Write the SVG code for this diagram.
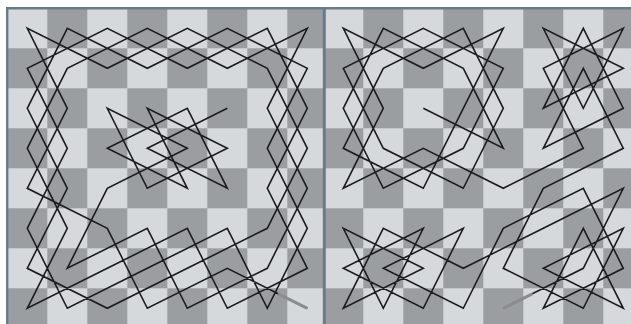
<svg xmlns="http://www.w3.org/2000/svg" width="631" height="324" viewBox="0 0 631 324">
  <defs>
    <pattern id="chkL" width="80" height="80" patternUnits="userSpaceOnUse" x="7.3" y="8.3">
      <rect width="80" height="80" fill="#d5d9dc"/>
      <rect x="40" y="0" width="40" height="40" fill="#9b9ea1"/>
      <rect x="0" y="40" width="40" height="40" fill="#9b9ea1"/>
    </pattern>
    <pattern id="chkR" width="80" height="80" patternUnits="userSpaceOnUse" x="323.3" y="8.3">
      <rect width="80" height="80" fill="#d5d9dc"/>
      <rect x="40" y="0" width="40" height="40" fill="#9b9ea1"/>
      <rect x="0" y="40" width="40" height="40" fill="#9b9ea1"/>
    </pattern>
  </defs>
  <style>
    .tour { fill: none; stroke: #1c1c1c; stroke-width: 1.6; stroke-linejoin: miter; stroke-miterlimit: 4; }
    .start { fill: none; stroke: #8a8c8e; stroke-width: 3; stroke-linecap: round; }
    .frame { stroke: #687a8b; fill: none; }
  </style>
  <rect width="631" height="324" fill="#ffffff"/>
  <g id="left-board">
    <rect x="7" y="8" width="316" height="316" fill="url(#chkL)"/>
  </g>
  <g id="right-board">
    <rect x="323" y="8" width="308" height="316" fill="url(#chkR)"/>
  </g>
  <g id="frame">
    <line class="frame" x1="6" y1="8.3" x2="631" y2="8.3" stroke-width="2.6"/>
    <line class="frame" x1="7.2" y1="7" x2="7.2" y2="324" stroke-width="2.4"/>
    <line class="frame" x1="324.3" y1="7" x2="324.3" y2="324" stroke-width="3"/>
  </g>
  <g id="connectors">
    <g id="left-tour" transform="translate(27.3,28.3)">
      <polyline class="tour" points="280,280 200,240 120,280 80,200 0,160 40,80 0,0 80,40 160,0 240,40 280,120 240,200 160,240 80,280 0,240 40,160 0,80 40,0 120,40 200,0 280,40 240,120 280,200 240,280 200,200 120,240 40,280 0,200 40,120 0,40 80,0 160,40 240,0 280,80 240,160 280,240 200,280 160,200 80,240 0,280 40,200 0,120 40,40 120,0 200,40 280,0 240,80 280,160 240,240 160,280 120,200 40,240 80,160 160,120 80,80 120,160 200,120 120,80 160,160 80,120 160,80 200,160 120,120 200,80"/>
      <line class="start" x1="279" y1="279.5" x2="252" y2="266"/>
    </g>
    <g id="right-tour" transform="translate(343.3,28.3)">
      <polyline class="tour" points="160,280 240,240 280,160 200,200 120,240 40,200 0,280 80,240 0,200 40,280 80,200 0,240 80,280 120,200 40,240 120,280 160,200 240,160 280,240 200,280 240,200 280,280 200,240 280,200 240,280 160,240 200,160 280,120 240,40 200,120 280,80 240,0 200,80 280,40 200,0 240,80 280,0 200,40 240,120 160,160 80,120 0,160 40,80 0,0 80,40 160,0 120,80 80,160 0,120 40,40 120,0 160,80 120,160 40,120 0,40 80,0 160,40 120,120 40,160 0,80 40,0 120,40 160,120 80,80"/>
      <line class="start" x1="161" y1="279.5" x2="188" y2="266"/>
    </g>
  </g>
</svg>
